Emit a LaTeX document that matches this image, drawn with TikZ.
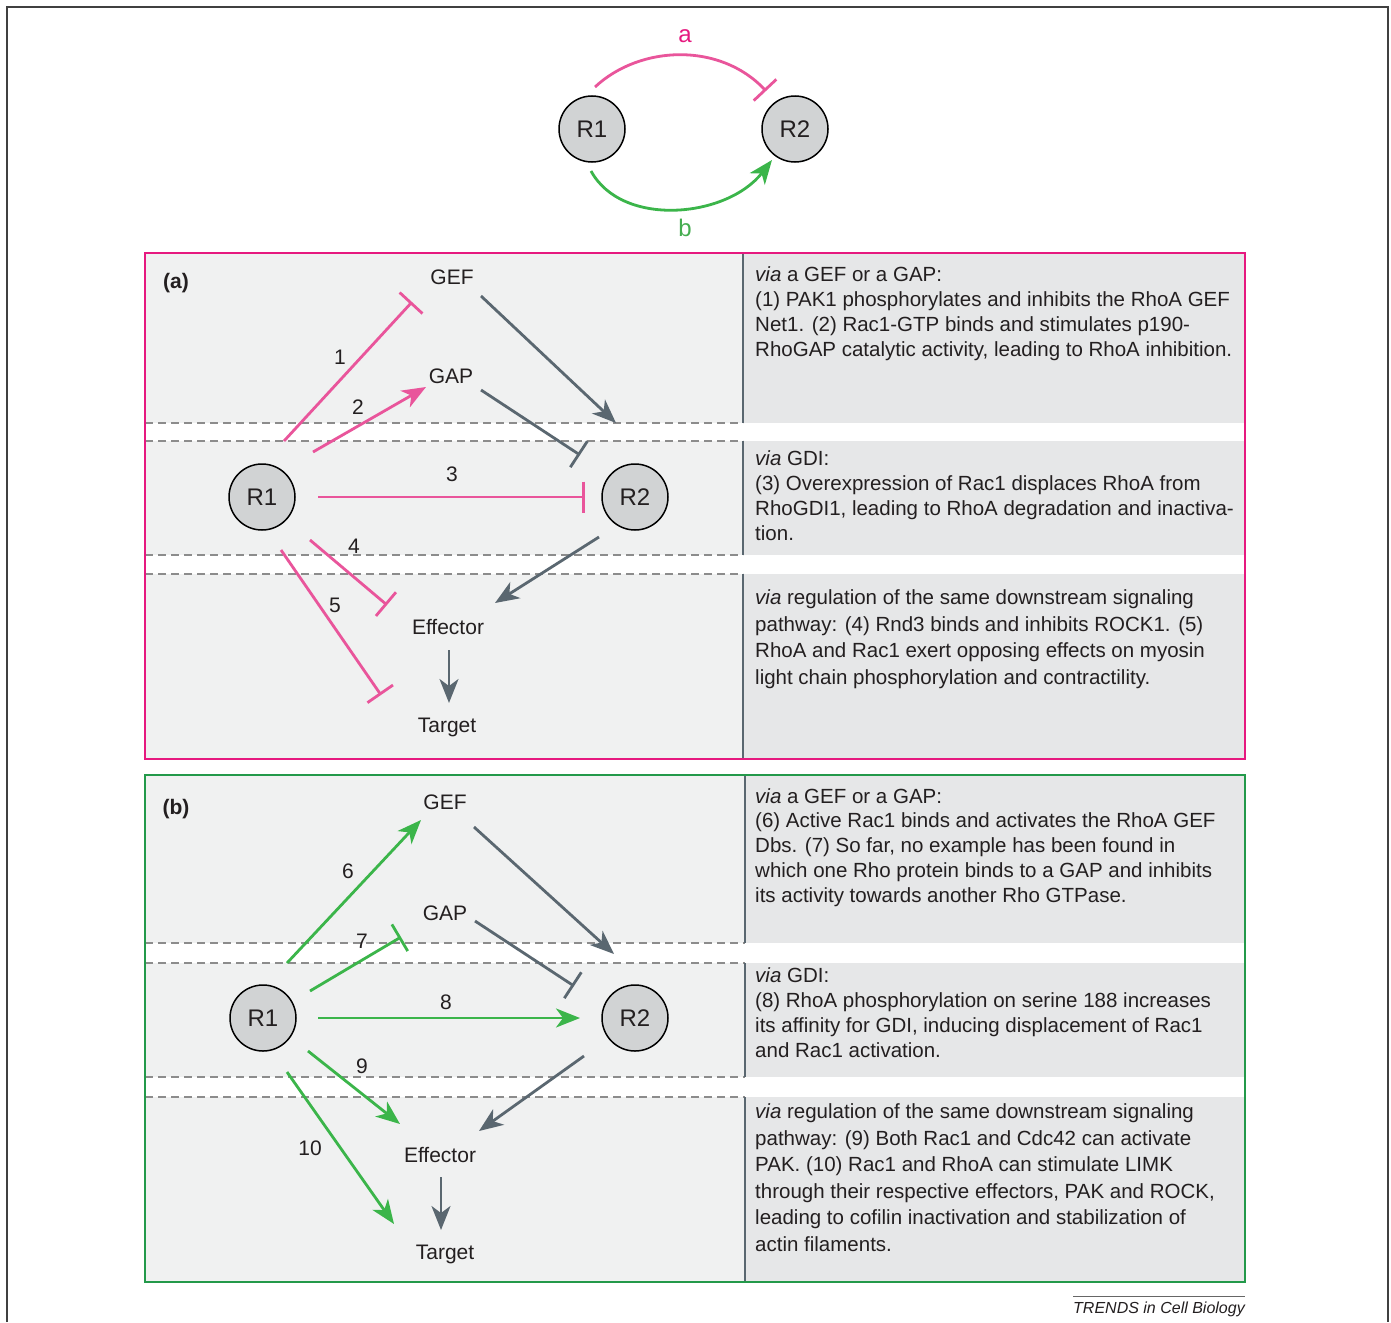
\documentclass[tikz,border=0pt]{standalone}
\usepackage{fontspec}
\setmainfont{Liberation Sans}
\usetikzlibrary{arrows.meta,calc}
\definecolor{pinkln}{HTML}{E9559B}
\definecolor{pinklbl}{HTML}{E6197F}
\definecolor{magframe}{HTML}{E6197F}
\definecolor{greenln}{HTML}{3BB54A}
\definecolor{greenlbl}{HTML}{45AD50}
\definecolor{greenframe}{HTML}{23994A}
\definecolor{grayarrow}{HTML}{5A6770}
\definecolor{lightbg}{HTML}{F0F1F1}
\definecolor{darkbg}{HTML}{E6E7E8}
\definecolor{circfill}{HTML}{D1D3D4}
\definecolor{dashc}{HTML}{8C8C8C}
\definecolor{txt}{HTML}{231F20}
\tikzset{
  rnode/.style={circle, draw=black, line width=1.5pt, fill=circfill, minimum size=66pt, inner sep=0pt,
    font=\fontsize{24}{28}\selectfont, text height=17pt, text depth=0pt, text=txt},
  lbl/.style={font=\fontsize{21}{25}\selectfont, text height=15pt, text depth=0pt, inner sep=0pt, text=txt},
  rtxt/.style={font=\fontsize{20.5}{24.7}\selectfont, align=left, inner sep=0pt, text=txt},
  rtxtw/.style={font=\fontsize{20.5}{26.5}\selectfont, align=left, inner sep=0pt, text=txt},
  act/.style={line width=2.8pt, -{Stealth[length=24pt,width=19pt,inset=7pt]}},
  inh/.style={line width=2.8pt, -{Bar[width=31pt]}},
  pk/.style={draw=pinkln},
  gr/.style={draw=greenln},
  gy/.style={draw=grayarrow},
  dashln/.style={draw=dashc, line width=1.3pt, dash pattern=on 8pt off 5pt},
  divln/.style={draw=grayarrow, line width=2pt}
}
\begin{document}
\begin{tikzpicture}[x=1pt,y=-1pt]
\useasboundingbox (0,0) rectangle (1391,1322);
\fill[white] (0,0) rectangle (1391,1322);
% outer frame
\draw[draw=black!75, line width=2pt] (7,1322) -- (7,7) -- (1388,7) -- (1388,1322);

% ---------- top motif ----------
\node[rnode] (tR1) at (592,129) {R1};
\node[rnode] (tR2) at (795,129) {R2};
\draw[inh, pk] ($(tR1)+(3,-42)$) .. controls (640,45) and (720,42) .. ($(tR2)+(-29,-38)$);
\draw[act, gr] ($(tR1)+(-1,42)$) .. controls (622,228) and (727,218) .. ($(tR2)+(-23,31)$);
\node[font=\fontsize{24}{28}\selectfont, text=pinklbl, text height=12.5pt, text depth=0pt, inner sep=0pt] (la) at (685,36) {a};
\node[font=\fontsize{24}{28}\selectfont, text=greenlbl, text height=17.5pt, text depth=0pt, inner sep=0pt] (lb) at (685,228) {b};

% ---------- panel (a) backgrounds ----------
\fill[lightbg] (145,253) rectangle (743,423);
\fill[lightbg] (145,441) rectangle (743,555);
\fill[lightbg] (145,574) rectangle (743,759);
\fill[darkbg] (743,253) rectangle (1245,423);
\fill[darkbg] (743,441) rectangle (1245,555);
\fill[darkbg] (743,574) rectangle (1245,759);
\draw[dashln] (145,423) -- (743,423);
\draw[dashln] (145,441) -- (743,441);
\draw[dashln] (145,555) -- (743,555);
\draw[dashln] (145,574) -- (743,574);
\draw[divln] (743,253) -- (743,423);
\draw[divln] (743,441) -- (743,555);
\draw[divln] (743,574) -- (743,759);
\draw[draw=magframe, line width=2pt] (145,253) rectangle (1245,759);

% ---------- panel (b) backgrounds ----------
\fill[lightbg] (145,775) rectangle (745,943);
\fill[lightbg] (145,963) rectangle (745,1077);
\fill[lightbg] (145,1097) rectangle (745,1282);
\fill[darkbg] (745,775) rectangle (1245,943);
\fill[darkbg] (745,963) rectangle (1245,1077);
\fill[darkbg] (745,1097) rectangle (1245,1282);
\draw[dashln] (145,943) -- (745,943);
\draw[dashln] (145,963) -- (745,963);
\draw[dashln] (145,1077) -- (745,1077);
\draw[dashln] (145,1097) -- (745,1097);
\draw[divln] (745,775) -- (745,943);
\draw[divln] (745,963) -- (745,1077);
\draw[divln] (745,1097) -- (745,1282);
\draw[draw=greenframe, line width=2pt] (145,775) rectangle (1245,1282);

% ---------- panel (a) diagram ----------
\node[lbl, font=\bfseries\fontsize{21}{25}\selectfont] (atag) at (176,281) {(a)};
\node[lbl] (aGEF) at (452,277) {GEF};
\node[lbl] (aGAP) at (451,376) {GAP};
\node[rnode] (aR1) at (262,497) {R1};
\node[rnode] (aR2) at (635,497) {R2};
\node[lbl] (aEff) at (448,627) {Effector};
\node[lbl] (aTgt) at (447,725) {Target};
\draw[inh, pk] ($(aR1)+(22,-56)$) -- ($(aGEF)+(-40,25)$);
\draw[act, pk] ($(aR1)+(51,-45)$) -- ($(aGAP)+(-25,11)$);
\draw[inh, pk] ($(aR1)+(56,0)$) -- ($(aR2)+(-50,0)$);
\draw[inh, pk] ($(aR1)+(48,43)$) -- ($(aEff)+(-61,-22)$);
\draw[inh, pk] ($(aR1)+(19,53)$) -- ($(aTgt)+(-66,-30)$);
\draw[act, gy] ($(aGEF)+(29,19)$) -- ($(aR2)+(-19,-74)$);
\draw[inh, gy] ($(aGAP)+(30,14)$) -- ($(aR2)+(-55,-42)$);
\draw[act, gy] ($(aR2)+(-36,40)$) -- ($(aEff)+(47,-24)$);
\draw[act, gy] ($(aEff)+(1,23)$) -- ($(aTgt)+(2,-22)$);
\node[lbl] (n1) at (340,357) {1};
\node[lbl] (n2) at (358,407) {2};
\node[lbl] (n3) at (452,474) {3};
\node[lbl] (n4) at (354,546) {4};
\node[lbl] (n5) at (335,605) {5};

% ---------- panel (b) diagram ----------
\node[lbl, font=\bfseries\fontsize{21}{25}\selectfont] (btag) at (176,807) {(b)};
\node[lbl] (bGEF) at (445,802) {GEF};
\node[lbl] (bGAP) at (445,913) {GAP};
\node[rnode] (bR1) at (263,1018) {R1};
\node[rnode] (bR2) at (635,1018) {R2};
\node[lbl] (bEff) at (440,1155) {Effector};
\node[lbl] (bTgt) at (445,1252) {Target};
\draw[act, gr] ($(bR1)+(24,-55)$) -- ($(bGEF)+(-24,18)$);
\draw[inh, gr] ($(bR1)+(47,-27)$) -- ($(bGAP)+(-44,24)$);
\draw[act, gr] ($(bR1)+(55,0)$) -- ($(bR2)+(-55,0)$);
\draw[act, gr] ($(bR1)+(45,33)$) -- ($(bEff)+(-40,-31)$);
\draw[act, gr] ($(bR1)+(24,54)$) -- ($(bTgt)+(-51,-28)$);
\draw[act, gy] ($(bGEF)+(29,25)$) -- ($(bR2)+(-21,-64)$);
\draw[inh, gy] ($(bGAP)+(30,8)$) -- ($(bR2)+(-61,-32)$);
\draw[act, gy] ($(bR2)+(-51,38)$) -- ($(bEff)+(39,-24)$);
\draw[act, gy] ($(bEff)+(1,22)$) -- ($(bTgt)+(-4,-22)$);
\node[lbl] (n6) at (348,871) {6};
\node[lbl] (n7) at (362,941) {7};
\node[lbl] (n8) at (446,1002) {8};
\node[lbl] (n9) at (362,1066) {9};
\node[lbl] (n10) at (310,1148) {10};

% ---------- right texts (a) ----------
\node[rtxt, anchor=base west] (ta1) at (755,356) {\textit{via} a GEF or a GAP:\\(1) PAK1 phosphorylates and inhibits the RhoA GEF\\Net1. (2) Rac1-GTP binds and stimulates p190-\\RhoGAP catalytic activity, leading to RhoA inhibition.};
\node[rtxt, anchor=base west] (ta2) at (755,540) {\textit{via} GDI:\\(3) Overexpression of Rac1 displaces RhoA from\\RhoGDI1, leading to RhoA degradation and inactiva-\\tion.};
\node[rtxtw, anchor=base west] (ta3) at (755,684) {\textit{via} regulation of the same downstream signaling\\pathway: (4) Rnd3 binds and inhibits ROCK1. (5)\\RhoA and Rac1 exert opposing effects on myosin\\light chain phosphorylation and contractility.};

% ---------- right texts (b) ----------
\node[rtxt, anchor=base west] (tb1) at (755,902) {\textit{via} a GEF or a GAP:\\(6) Active Rac1 binds and activates the RhoA GEF\\Dbs. (7) So far, no example has been found in\\which one Rho protein binds to a GAP and inhibits\\its activity towards another Rho GTPase.};
\node[rtxt, anchor=base west] (tb2) at (755,1057) {\textit{via} GDI:\\(8) RhoA phosphorylation on serine 188 increases\\its affinity for GDI, inducing displacement of Rac1\\and Rac1 activation.};
\node[rtxtw, anchor=base west] (tb3) at (755,1251) {\textit{via} regulation of the same downstream signaling\\pathway: (9) Both Rac1 and Cdc42 can activate\\PAK. (10) Rac1 and RhoA can stimulate LIMK\\through their respective effectors, PAK and ROCK,\\leading to cofilin inactivation and stabilization of\\actin filaments.};

% ---------- credit ----------
\node[font=\itshape\fontsize{16}{19}\selectfont, anchor=base east, inner sep=0pt, text=txt] (credit) at (1245,1313) {TRENDS in Cell Biology};
\draw[draw=black!60, line width=1pt] (credit.north west |- 0,1296) -- (1245,1296);
\end{tikzpicture}
\end{document}
